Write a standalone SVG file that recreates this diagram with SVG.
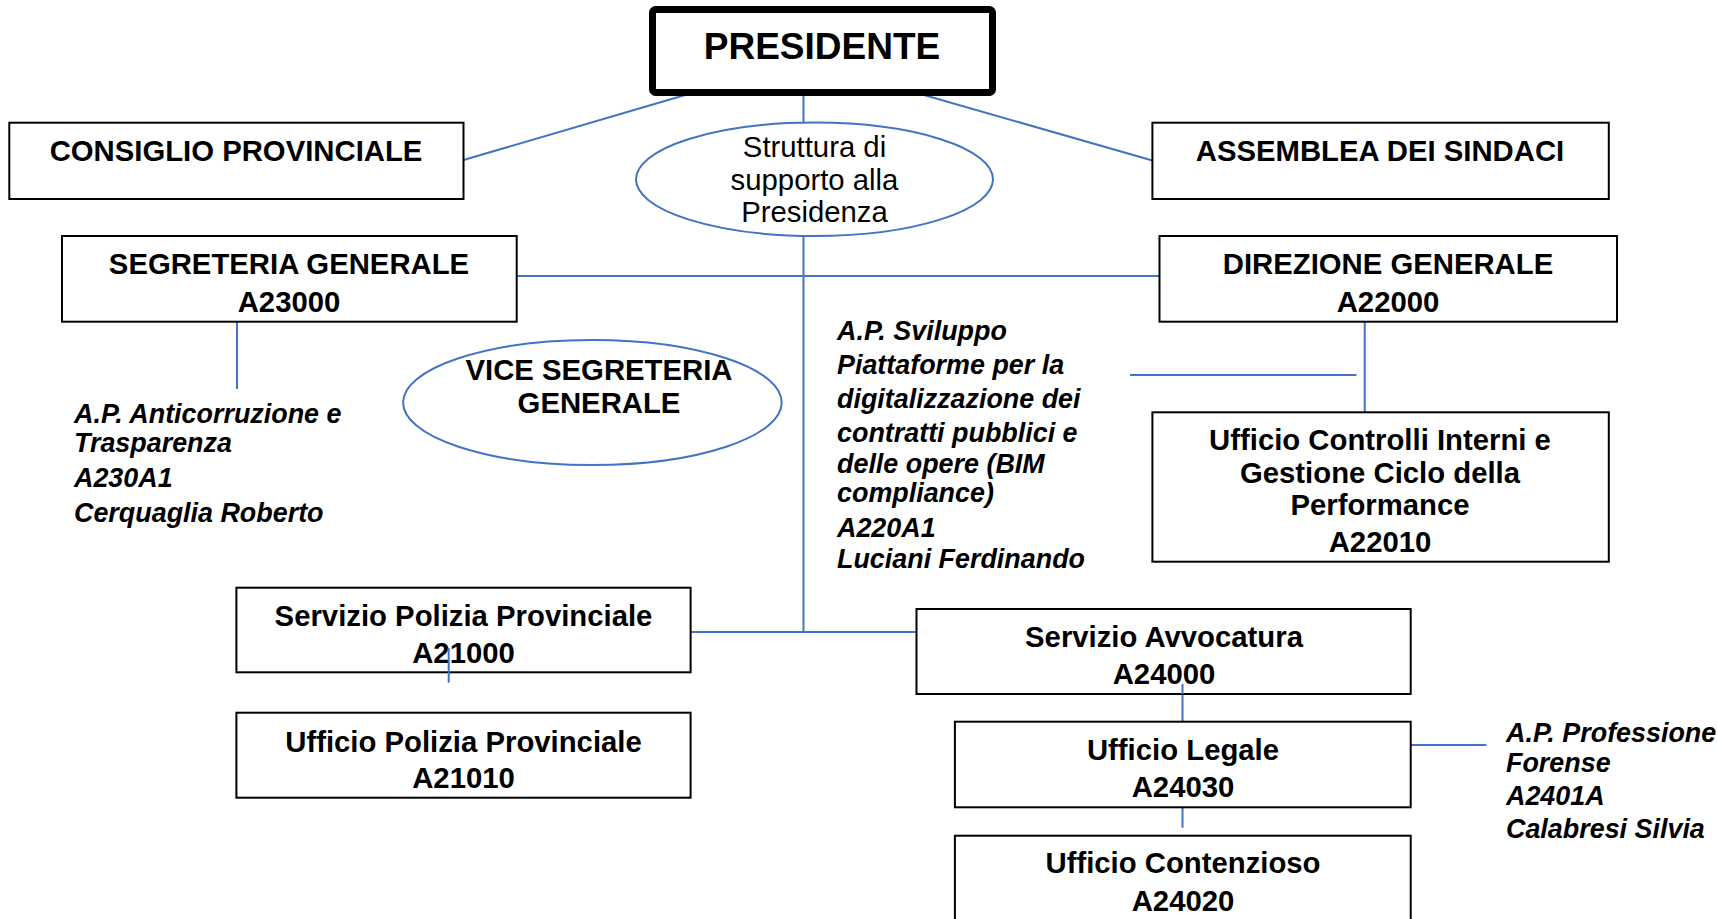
<svg xmlns="http://www.w3.org/2000/svg" width="1717" height="919" viewBox="0 0 1717 919">
<style>
.box{fill:#fff;stroke:#000;stroke-width:2}
.ell{fill:#fff;stroke:#4472C4;stroke-width:2}
.ln{stroke:#4472C4;stroke-width:2;fill:none}
.t{font-family:"Liberation Sans",Arial,sans-serif;font-weight:bold;font-size:29.3px;fill:#000;text-anchor:middle}
.r{font-family:"Liberation Sans",Arial,sans-serif;font-size:29.3px;fill:#000;text-anchor:middle}
.i{font-family:"Liberation Sans",Arial,sans-serif;font-weight:bold;font-style:italic;font-size:26.9px;fill:#000}
</style>
<rect width="1717" height="919" fill="#fff"/>
<g id="connectors">
<line class="ln" x1="692" y1="93" x2="463.5" y2="160"/>
<line class="ln" x1="917" y1="93" x2="1152.4" y2="160.5"/>
<line class="ln" x1="803.5" y1="96" x2="803.5" y2="632"/>
<line class="ln" x1="516.7" y1="276" x2="1159.5" y2="276"/>
<line class="ln" x1="237" y1="321.7" x2="237" y2="389"/>
<line class="ln" x1="1364.7" y1="321.7" x2="1364.7" y2="412.3"/>
<line class="ln" x1="1130" y1="375" x2="1356.5" y2="375"/>
<line class="ln" x1="690.6" y1="632" x2="916.5" y2="632"/>
<line class="ln" x1="1182.5" y1="686.7" x2="1182.5" y2="721.7"/>
<line class="ln" x1="1410.7" y1="745" x2="1486.4" y2="745"/>
<line class="ln" x1="1182.5" y1="808" x2="1182.5" y2="827.7"/>
</g>
<g id="presidente">
<rect x="652.5" y="9.5" width="340" height="83" rx="3" fill="#fff" stroke="#000" stroke-width="7"/>
<text class="t" x="822" y="59" style="font-size:37px">PRESIDENTE</text>
</g>
<g id="consiglio">
<rect class="box" x="9.3" y="122.7" width="454.2" height="76.3"/>
<text class="t" x="236" y="161">CONSIGLIO PROVINCIALE</text>
</g>
<g id="assemblea">
<rect class="box" x="1152.4" y="122.7" width="456.4" height="76.3"/>
<text class="t" x="1380" y="161">ASSEMBLEA DEI SINDACI</text>
</g>
<g id="struttura">
<ellipse class="ell" cx="814.5" cy="179.3" rx="178.5" ry="56.7"/>
<text class="r" x="814.5" y="157">Struttura di</text>
<text class="r" x="814.5" y="190">supporto alla</text>
<text class="r" x="814.5" y="222">Presidenza</text>
</g>
<g id="segreteria">
<rect class="box" x="62" y="236" width="454.7" height="85.7"/>
<text class="t" x="289" y="274">SEGRETERIA GENERALE</text>
<text class="t" x="289" y="312">A23000</text>
</g>
<g id="direzione">
<rect class="box" x="1159.5" y="236" width="457.5" height="85.7"/>
<text class="t" x="1388" y="274">DIREZIONE GENERALE</text>
<text class="t" x="1388" y="312">A22000</text>
</g>
<g id="vice">
<ellipse class="ell" cx="592.4" cy="402.5" rx="189.3" ry="62.5"/>
<text class="t" x="599" y="380">VICE SEGRETERIA</text>
<text class="t" x="599" y="413">GENERALE</text>
</g>
<g id="ap-anticorruzione">
<text class="i" x="74" y="423">A.P. Anticorruzione e</text>
<text class="i" x="74" y="452">Trasparenza</text>
<text class="i" x="74" y="487">A230A1</text>
<text class="i" x="74" y="522">Cerquaglia Roberto</text>
</g>
<g id="ap-sviluppo">
<text class="i" x="837" y="340">A.P. Sviluppo</text>
<text class="i" x="837" y="374">Piattaforme per la</text>
<text class="i" x="837" y="408">digitalizzazione dei</text>
<text class="i" x="837" y="442">contratti pubblici e</text>
<text class="i" x="837" y="473">delle opere (BIM</text>
<text class="i" x="837" y="502">compliance)</text>
<text class="i" x="837" y="537">A220A1</text>
<text class="i" x="837" y="568">Luciani Ferdinando</text>
</g>
<g id="controlli">
<rect class="box" x="1152.4" y="412.3" width="456.4" height="149.4"/>
<text class="t" x="1380" y="450">Ufficio Controlli Interni e</text>
<text class="t" x="1380" y="483">Gestione Ciclo della</text>
<text class="t" x="1380" y="515">Performance</text>
<text class="t" x="1380" y="552">A22010</text>
</g>
<g id="servizio-polizia">
<rect class="box" x="236.4" y="587.7" width="454.2" height="84.6"/>
<text class="t" x="463.5" y="626">Servizio Polizia Provinciale</text>
<text class="t" x="463.5" y="663">A21000</text>
<line class="ln" x1="448.7" y1="648" x2="448.7" y2="682.7"/>
</g>
<g id="ufficio-polizia">
<rect class="box" x="236.4" y="712.7" width="454.2" height="85"/>
<text class="t" x="463.5" y="752">Ufficio Polizia Provinciale</text>
<text class="t" x="463.5" y="788">A21010</text>
</g>
<g id="avvocatura">
<rect class="box" x="916.5" y="609" width="494.2" height="85"/>
<text class="t" x="1164" y="647">Servizio Avvocatura</text>
<text class="t" x="1164" y="684">A24000</text>
<line class="ln" x1="1182.5" y1="684" x2="1182.5" y2="694"/>
</g>
<g id="legale">
<rect class="box" x="954.9" y="721.7" width="455.8" height="85.6"/>
<text class="t" x="1183" y="760">Ufficio Legale</text>
<text class="t" x="1183" y="797">A24030</text>
</g>
<g id="contenzioso">
<rect class="box" x="954.9" y="835.7" width="455.8" height="100"/>
<text class="t" x="1183" y="873">Ufficio Contenzioso</text>
<text class="t" x="1183" y="911">A24020</text>
</g>
<g id="ap-professione">
<text class="i" x="1506" y="742">A.P. Professione</text>
<text class="i" x="1506" y="772">Forense</text>
<text class="i" x="1506" y="805">A2401A</text>
<text class="i" x="1506" y="838">Calabresi Silvia</text>
</g>
</svg>
